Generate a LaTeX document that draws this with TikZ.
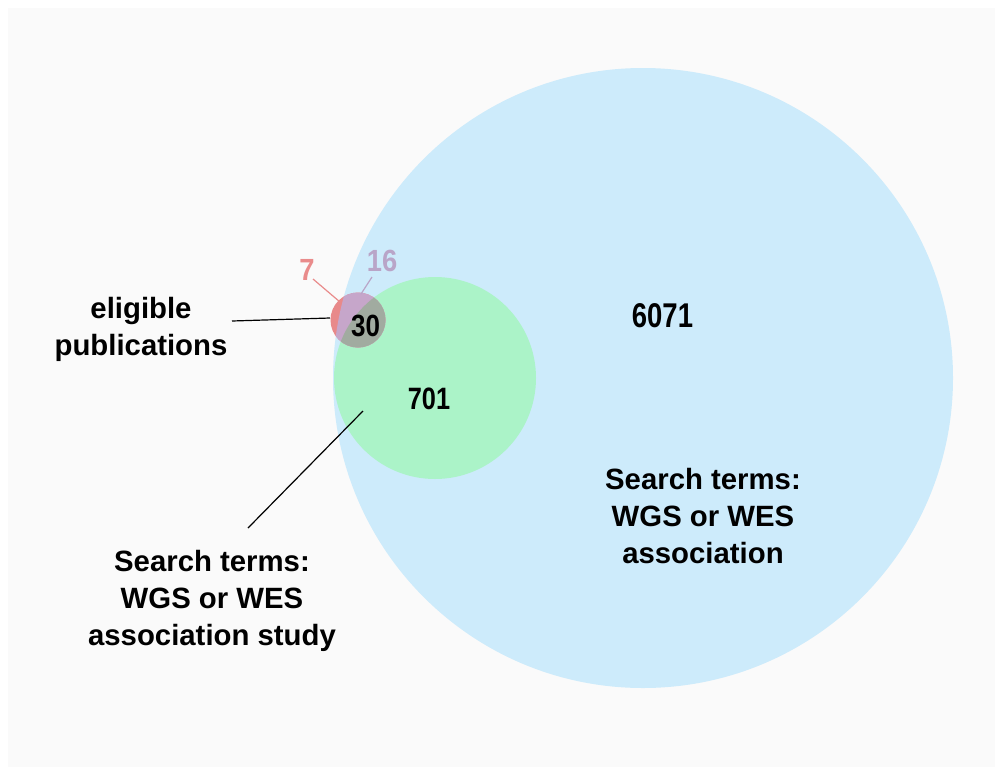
\documentclass[tikz,border=0pt]{standalone}
\usepackage{fontspec}
\setmainfont{Liberation Sans}
\definecolor{bgc}{HTML}{FAFAFA}
\definecolor{bluec}{HTML}{CDEBFB}
\definecolor{greenc}{HTML}{ABF3C8}
\definecolor{redc}{HTML}{E8898A}
\definecolor{purplec}{HTML}{C6A6CA}
\definecolor{grayc}{HTML}{A1ABA0}
\definecolor{seven}{HTML}{E98B8B}
\definecolor{sixteen}{HTML}{B9A5C8}
\newcommand{\tallnum}[3]{\scalebox{1}[#2]{\fontsize{#1}{#1}\selectfont\bfseries #3}}
\begin{document}
\begin{tikzpicture}[x=0.75pt,y=-0.75pt,
  lbl/.style={font=\bfseries\fontsize{22}{27.75}\selectfont, align=center, inner sep=0pt},
  num/.style={inner sep=0pt},
  conn/.style={line width=0.9pt}]
\fill[white] (0,0) rectangle (1003,775);
\fill[bgc] (8,8) rectangle (995,767);
\useasboundingbox (0,0) rectangle (1003,775);
% circles
\fill[bluec] (643,378) circle[radius=310];
\fill[greenc] (435,378) circle[radius=101];
\fill[redc] (358,320) circle[radius=27.5];
\begin{scope}
  \clip (643,378) circle[radius=310];
  \fill[purplec] (358,320) circle[radius=27.5];
\end{scope}
\begin{scope}
  \clip (435,378) circle[radius=101];
  \fill[grayc] (358,320) circle[radius=27.5];
\end{scope}
% numbers
\node[num] (n6071) at (662.5,315.5) {\tallnum{20.6}{1.25}{6071}};
\node[num] (n701) at (429,399) {\tallnum{19}{1.22}{701}};
\node[num] (n30) at (365.5,326) {\tallnum{19.5}{1.18}{30}};
\node[num, text=seven] (n7) at (307,269.5) {\tallnum{20.5}{1.12}{7}};
\node[num, text=sixteen] (n16) at (382,261) {\tallnum{20.5}{1.12}{16}};
% labels
\node[lbl] (elig) at (141,329) {eligible\\publications};
\node[lbl] (study) at (212,601) {Search terms:\\WGS or WES\\association study};
\node[lbl] (assoc) at (703,516) {Search terms:\\WGS or WES\\association};
% connector ends
\coordinate (eligA) at (232,321);
\coordinate (eligB) at (330,318);
\coordinate (studyA) at (248,528);
\coordinate (studyB) at (363,411);
\coordinate (sevenA) at (313,279);
\coordinate (sevenB) at (340,302);
\coordinate (sixA) at (372,277);
\coordinate (sixB) at (361,294);
\draw[conn] (eligA) -- (eligB);
\draw[conn] (studyA) -- (studyB);
\draw[conn, draw=seven] (sevenA) -- (sevenB);
\draw[conn, draw=sixteen] (sixA) -- (sixB);
\end{tikzpicture}
\end{document}
